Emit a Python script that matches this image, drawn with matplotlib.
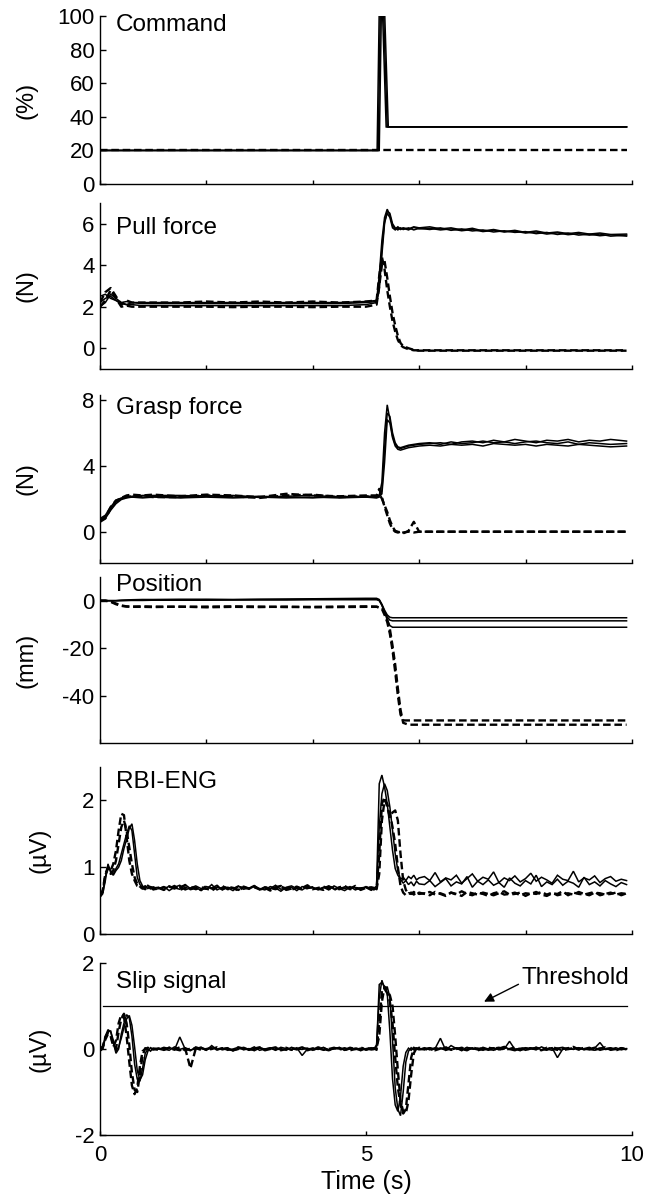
import matplotlib
matplotlib.use("Agg")
import matplotlib.pyplot as plt

plt.rcParams['font.family'] = ['Liberation Sans', 'DejaVu Sans']
plt.rcParams['axes.unicode_minus'] = False

# ---- Command (%) : breakpoints per trace
cmd_t_solid = [[0, 5.21, 5.25, 5.31, 5.38, 9.9],
               [0, 5.23, 5.27, 5.33, 5.40, 9.9],
               [0, 5.25, 5.29, 5.35, 5.42, 9.9]]
cmd_v_solid = [[20, 20, 104, 104, 34, 34],
               [20, 20, 104, 104, 34, 34],
               [20, 20, 104, 104, 34, 34]]
cmd_t_dash = [[0, 9.9]]
cmd_v_dash = [[20, 20]]

# ---- common time base for force / position traces (s)
t_mid = [0.0, 0.1, 0.2, 0.3, 0.4, 0.5, 0.6, 0.8, 1.0, 1.5, 2.0, 2.5, 3.0, 3.5, 4.0, 4.5, 5.0,
         5.2, 5.25, 5.3, 5.35, 5.4, 5.45, 5.5, 5.55, 5.6, 5.65, 5.7, 5.8, 5.9, 6.0,
         6.2, 6.4, 6.6, 6.8, 7.0, 7.2, 7.4, 7.6, 7.8, 8.0, 8.2, 8.4, 8.6, 8.8, 9.0, 9.2, 9.4, 9.6, 9.9]

# ---- Pull force (N)
pull_solid = [
    [2.5, 2.6, 2.4, 2.3, 2.2, 2.25, 2.2, 2.2, 2.2,
     2.2, 2.2, 2.2, 2.2, 2.2, 2.2, 2.2, 2.25,
     2.3, 3.5, 5.2, 6.3, 6.7, 6.4, 5.9, 5.75, 5.85, 5.75, 5.8,
     5.75, 5.85, 5.8,
     5.85, 5.75, 5.8, 5.7, 5.78, 5.65, 5.72, 5.62, 5.68, 5.58, 5.65, 5.55, 5.6, 5.52, 5.58, 5.5, 5.55, 5.48, 5.5],
    [2.2, 2.4, 2.5, 2.3, 2.15, 2.1, 2.1, 2.05, 2.05,
     2.05, 2.05, 2.05, 2.05, 2.05, 2.05, 2.05, 2.1,
     2.2, 2.8, 4.5, 6.0, 6.6, 6.5, 6.0, 5.8, 5.7, 5.8, 5.72,
     5.8, 5.7, 5.78,
     5.72, 5.8, 5.68, 5.75, 5.65, 5.7, 5.6, 5.66, 5.58, 5.62, 5.52, 5.58, 5.48, 5.55, 5.45, 5.5, 5.42, 5.47, 5.4],
    [2.0, 2.2, 2.6, 2.4, 2.2, 2.1, 2.2, 2.15, 2.15,
     2.15, 2.15, 2.15, 2.15, 2.15, 2.15, 2.15, 2.2,
     2.25, 3.0, 4.8, 6.1, 6.5, 6.3, 5.8, 5.7, 5.8, 5.72, 5.78,
     5.7, 5.82, 5.75,
     5.78, 5.7, 5.75, 5.66, 5.72, 5.62, 5.68, 5.6, 5.64, 5.55, 5.6, 5.5, 5.56, 5.47, 5.52, 5.45, 5.5, 5.4, 5.45],
]
pull_dash = [
    [2.2, 2.7, 2.9, 2.5, 2.1, 2.3, 2.2, 2.2, 2.2,
     2.2, 2.25, 2.2, 2.25, 2.2, 2.25, 2.2, 2.25,
     2.3, 3.5, 4.4, 3.8, 2.8, 2.0, 1.3, 0.8, 0.4, 0.15, 0.05,
     -0.05, -0.1, -0.1,
     -0.1, -0.1, -0.1, -0.1, -0.1, -0.1, -0.1, -0.1, -0.1, -0.1, -0.1, -0.1, -0.1, -0.1, -0.1, -0.1, -0.1, -0.1, -0.1],
    [2.0, 2.3, 2.8, 2.4, 2.0, 2.05, 2.0, 2.0, 2.0,
     2.0, 2.0, 1.98, 2.0, 2.0, 1.98, 2.0, 2.0,
     2.1, 3.0, 4.0, 4.2, 3.4, 2.5, 1.7, 1.1, 0.6, 0.25, 0.1,
     0.0, -0.08, -0.12,
     -0.12, -0.12, -0.12, -0.12, -0.12, -0.12, -0.12, -0.12, -0.12, -0.12, -0.12, -0.12, -0.12, -0.12, -0.12, -0.12, -0.12, -0.12, -0.12],
]

# ---- Grasp force (N)
grasp_solid = [
    [0.6, 0.9, 1.4, 1.8, 2.0, 2.1, 2.15, 2.2, 2.2,
     2.2, 2.15, 2.2, 2.1, 2.15, 2.2, 2.1, 2.15,
     2.15, 2.2, 3.0, 6.0, 7.7, 6.8, 5.8, 5.3, 5.1, 5.05, 5.1,
     5.2, 5.25, 5.3,
     5.35, 5.4, 5.3, 5.45, 5.5, 5.4, 5.55, 5.45, 5.6, 5.5, 5.4, 5.55, 5.5, 5.6, 5.45, 5.55, 5.5, 5.6, 5.5],
    [0.8, 1.0, 1.5, 1.9, 2.05, 2.1, 2.1, 2.1, 2.15,
     2.1, 2.2, 2.1, 2.15, 2.1, 2.05, 2.15, 2.1,
     2.1, 2.15, 2.5, 5.0, 7.2, 7.0, 6.0, 5.4, 5.15, 5.1, 5.15,
     5.25, 5.3, 5.35,
     5.4, 5.3, 5.45, 5.35, 5.4, 5.5, 5.4, 5.45, 5.35, 5.45, 5.5, 5.4, 5.35, 5.45, 5.3, 5.4, 5.35, 5.3, 5.35],
    [0.7, 0.8, 1.3, 1.7, 1.95, 2.05, 2.1, 2.05, 2.1,
     2.05, 2.1, 2.05, 2.1, 2.05, 2.1, 2.05, 2.1,
     2.05, 2.1, 2.3, 4.2, 6.8, 6.6, 5.7, 5.2, 5.0, 4.95, 5.0,
     5.1, 5.15, 5.2,
     5.25, 5.2, 5.3, 5.25, 5.3, 5.2, 5.35, 5.3, 5.25, 5.3, 5.2, 5.3, 5.25, 5.2, 5.3, 5.25, 5.2, 5.15, 5.2],
]
grasp_dash = [
    [0.6, 0.8, 1.4, 1.85, 2.05, 2.2, 2.25, 2.2, 2.25,
     2.15, 2.25, 2.2, 2.1, 2.3, 2.2, 2.15, 2.2,
     2.2, 2.6, 2.1, 1.5, 1.0, 0.5, 0.15, 0.0, -0.05, 0.0, -0.1,
     0.05, 0.6, 0.0,
     0.0, 0.0, 0.0, 0.0, 0.0, 0.0, 0.0, 0.0, 0.0, 0.0, 0.0, 0.0, 0.0, 0.0, 0.0, 0.0, 0.0, 0.0, 0.0],
    [0.7, 0.9, 1.5, 1.9, 2.0, 2.1, 2.15, 2.15, 2.1,
     2.1, 2.2, 2.15, 2.05, 2.2, 2.25, 2.1, 2.15,
     2.1, 2.3, 2.0, 1.6, 1.2, 0.7, 0.3, 0.05, 0.0, -0.1, -0.05,
     0.0, -0.05, 0.0,
     0.0, 0.0, 0.0, 0.0, 0.0, 0.0, 0.0, 0.0, 0.0, 0.0, 0.0, 0.0, 0.0, 0.0, 0.0, 0.0, 0.0, 0.0, 0.0],
]

# ---- Position (mm)
pos_solid = [
    [0.0, 0.0, 0.0, 0.0, 0.2, 0.3, 0.4, 0.5, 0.5, 0.6, 0.6, 0.5, 0.6, 0.7, 0.8, 0.9, 1.0,
     1.0, 0.5, -1.5, -4.0, -6.0, -7.0, -7.2, -7.2, -7.2, -7.2, -7.2,
     -7.2, -7.2, -7.2,
     -7.2, -7.2, -7.2, -7.2, -7.2, -7.2, -7.2, -7.2, -7.2, -7.2, -7.2, -7.2, -7.2, -7.2, -7.2, -7.2, -7.2, -7.2, -7.2],
    [0.0, 0.0, 0.0, 0.0, 0.1, 0.1, 0.2, 0.2, 0.3, 0.3, 0.4, 0.4, 0.5, 0.5, 0.6, 0.6, 0.7,
     0.7, 0.3, -1.8, -4.5, -6.8, -8.2, -8.5, -8.5, -8.5, -8.5, -8.5,
     -8.5, -8.5, -8.5,
     -8.5, -8.5, -8.5, -8.5, -8.5, -8.5, -8.5, -8.5, -8.5, -8.5, -8.5, -8.5, -8.5, -8.5, -8.5, -8.5, -8.5, -8.5, -8.5],
    [0.0, 0.0, 0.0, 0.0, 0.0, 0.1, 0.1, 0.1, 0.2, 0.2, 0.2, 0.3, 0.3, 0.3, 0.4, 0.4, 0.4,
     0.4, 0.0, -2.0, -5.0, -8.0, -10.5, -11.2, -11.2, -11.2, -11.2, -11.2,
     -11.2, -11.2, -11.2,
     -11.2, -11.2, -11.2, -11.2, -11.2, -11.2, -11.2, -11.2, -11.2, -11.2, -11.2, -11.2, -11.2, -11.2, -11.2, -11.2, -11.2, -11.2, -11.2],
]
pos_dash = [
    [0.0, 0.0, -0.5, -1.5, -2.2, -2.5, -2.5, -2.4, -2.5, -2.6, -2.5, -2.4, -2.5, -2.7, -2.6, -2.5, -2.4,
     -2.5, -3.0, -3.5, -6.0, -9.0, -14.0, -21.0, -30.0, -40.0, -48.0, -50.5,
     -50.5, -50.5, -50.5,
     -50.5, -50.5, -50.5, -50.5, -50.5, -50.5, -50.5, -50.5, -50.5, -50.5, -50.5, -50.5, -50.5, -50.5, -50.5, -50.5, -50.5, -50.5, -50.5],
    [0.0, 0.0, -0.3, -1.2, -2.0, -2.4, -2.6, -2.6, -2.7, -2.5, -2.8, -2.6, -2.7, -2.5, -2.8, -2.7, -2.6,
     -2.6, -2.8, -3.0, -5.0, -8.0, -12.0, -19.0, -27.0, -37.0, -46.0, -51.5,
     -52.3, -52.3, -52.3,
     -52.3, -52.3, -52.3, -52.3, -52.3, -52.3, -52.3, -52.3, -52.3, -52.3, -52.3, -52.3, -52.3, -52.3, -52.3, -52.3, -52.3, -52.3, -52.3],
]

# ---- time base for the nerve signals (s)
t_eng = [0.00, 0.05, 0.10, 0.15, 0.20, 0.25, 0.30, 0.35, 0.40, 0.45, 0.50, 0.55, 0.60, 0.65, 0.70,
         0.75, 0.80, 0.85, 0.90, 0.95, 1.00,
         1.1, 1.2, 1.3, 1.4, 1.5, 1.6, 1.7, 1.8, 1.9, 2.0, 2.1, 2.2, 2.3, 2.4, 2.5, 2.6, 2.7, 2.8,
         2.9, 3.0, 3.1, 3.2, 3.3, 3.4, 3.5, 3.6, 3.7, 3.8, 3.9, 4.0, 4.1, 4.2, 4.3, 4.4, 4.5, 4.6,
         4.7, 4.8, 4.9, 5.0, 5.1,
         5.15, 5.20, 5.25, 5.30, 5.35, 5.40, 5.45, 5.50, 5.55, 5.60, 5.65, 5.70, 5.75, 5.80, 5.85,
         5.90, 5.95, 6.00,
         6.1, 6.2, 6.3, 6.4, 6.5, 6.6, 6.7, 6.8, 6.9, 7.0, 7.1, 7.2, 7.3, 7.4, 7.5, 7.6, 7.7, 7.8,
         7.9, 8.0, 8.1, 8.2, 8.3, 8.4, 8.5, 8.6, 8.7, 8.8, 8.9, 9.0, 9.1, 9.2, 9.3, 9.4, 9.5, 9.6,
         9.7, 9.8, 9.9]

# ---- RBI-ENG (uV)
eng_solid = [
    [0.58, 0.62, 0.85, 1.02, 0.95, 0.90, 0.98, 1.05, 1.20, 1.35, 1.50, 1.62, 1.55, 1.20, 0.85, 0.74, 0.70, 0.72, 0.68, 0.71, 0.69,
     0.70, 0.66, 0.72, 0.69, 0.67, 0.74, 0.68, 0.70, 0.65, 0.71,
     0.69, 0.73, 0.66, 0.70, 0.68, 0.72, 0.67, 0.69, 0.71, 0.66,
     0.70, 0.68, 0.73, 0.67, 0.69, 0.70, 0.65, 0.71, 0.68, 0.70,
     0.66, 0.69, 0.72, 0.67, 0.70, 0.68, 0.71, 0.66, 0.69, 0.70, 0.67,
     0.68, 0.72, 2.25, 2.38, 2.20, 1.95, 1.60, 1.25, 0.98, 0.88, 0.82, 0.85, 0.80, 0.86, 0.83, 0.88, 0.81, 0.84,
     0.86, 0.80, 0.92, 0.78, 0.84, 0.81, 0.88, 0.76, 0.83, 0.90,
     0.79, 0.85, 0.82, 0.93, 0.77, 0.84, 0.80, 0.87, 0.78, 0.83,
     0.91, 0.79, 0.85, 0.81, 0.76, 0.88, 0.82, 0.80, 0.94, 0.78,
     0.84, 0.81, 0.87, 0.77, 0.83, 0.86, 0.79, 0.82, 0.80],
    [0.55, 0.60, 0.80, 1.05, 0.92, 0.88, 0.95, 1.00, 1.10, 1.28, 1.42, 1.58, 1.65, 1.40, 1.05, 0.80, 0.72, 0.68, 0.73, 0.70, 0.66,
     0.68, 0.71, 0.65, 0.70, 0.73, 0.66, 0.69, 0.72, 0.68, 0.67,
     0.74, 0.66, 0.70, 0.69, 0.65, 0.71, 0.70, 0.67, 0.72, 0.68,
     0.66, 0.71, 0.69, 0.64, 0.70, 0.72, 0.68, 0.66, 0.71, 0.69,
     0.67, 0.70, 0.66, 0.72, 0.68, 0.65, 0.70, 0.69, 0.67, 0.71, 0.68,
     0.66, 0.70, 1.60, 2.10, 2.25, 2.15, 1.90, 1.55, 1.20, 0.95, 0.82, 0.76, 0.80, 0.74, 0.78, 0.72, 0.79, 0.75,
     0.74, 0.80, 0.71, 0.77, 0.83, 0.72, 0.78, 0.75, 0.86, 0.70,
     0.79, 0.74, 0.81, 0.73, 0.77, 0.70, 0.84, 0.76, 0.72, 0.80,
     0.75, 0.88, 0.71, 0.78, 0.74, 0.82, 0.73, 0.79, 0.76, 0.70,
     0.85, 0.74, 0.78, 0.72, 0.80, 0.75, 0.71, 0.77, 0.74],
]
eng_dash = [
    [0.60, 0.65, 0.90, 1.00, 0.95, 1.05, 1.25, 1.55, 1.80, 1.78, 1.45, 1.10, 0.90, 0.80, 0.72, 0.70, 0.68, 0.71, 0.67, 0.70, 0.68,
     0.67, 0.70, 0.68, 0.72, 0.66, 0.69, 0.71, 0.67, 0.70, 0.68,
     0.65, 0.70, 0.72, 0.67, 0.69, 0.66, 0.71, 0.68, 0.70, 0.67,
     0.69, 0.65, 0.70, 0.72, 0.66, 0.68, 0.71, 0.67, 0.69, 0.70,
     0.68, 0.66, 0.71, 0.69, 0.67, 0.70, 0.68, 0.72, 0.66, 0.69, 0.70,
     0.69, 0.68, 1.20, 1.95, 2.05, 1.90, 1.75, 1.82, 1.85, 1.70, 1.20, 0.80, 0.66, 0.60, 0.62, 0.59, 0.63, 0.60,
     0.61, 0.58, 0.63, 0.60, 0.57, 0.62, 0.59, 0.64, 0.60, 0.58,
     0.62, 0.60, 0.57, 0.61, 0.63, 0.59, 0.60, 0.62, 0.58, 0.61,
     0.60, 0.63, 0.59, 0.57, 0.61, 0.60, 0.64, 0.58, 0.62, 0.60,
     0.59, 0.61, 0.63, 0.58, 0.60, 0.62, 0.59, 0.61, 0.60],
    [0.57, 0.63, 0.88, 0.98, 0.90, 0.95, 1.10, 1.35, 1.60, 1.70, 1.55, 1.30, 1.05, 0.85, 0.75, 0.71, 0.69, 0.67, 0.72, 0.68, 0.70,
     0.69, 0.66, 0.71, 0.68, 0.70, 0.73, 0.67, 0.69, 0.66, 0.72,
     0.68, 0.70, 0.67, 0.71, 0.69, 0.65, 0.70, 0.68, 0.72, 0.66,
     0.70, 0.69, 0.67, 0.71, 0.68, 0.66, 0.70, 0.69, 0.73, 0.67,
     0.69, 0.71, 0.68, 0.66, 0.70, 0.72, 0.67, 0.69, 0.68, 0.70, 0.66,
     0.70, 0.67, 0.90, 1.70, 2.00, 1.95, 1.80, 1.60, 1.35, 1.00, 0.72, 0.62, 0.58, 0.61, 0.60, 0.63, 0.59, 0.62,
     0.60, 0.63, 0.59, 0.61, 0.58, 0.62, 0.60, 0.57, 0.63, 0.61,
     0.59, 0.62, 0.60, 0.58, 0.61, 0.64, 0.59, 0.60, 0.62, 0.57,
     0.61, 0.60, 0.63, 0.59, 0.62, 0.58, 0.60, 0.61, 0.59, 0.63,
     0.60, 0.58, 0.62, 0.61, 0.59, 0.60, 0.62, 0.58, 0.61],
]

# ---- Slip signal (uV)
slip_solid = [
    [0.00, 0.05, 0.30, 0.45, 0.40, 0.15, -0.10, 0.00, 0.35, 0.60, 0.80, 0.72, 0.30, -0.35, -0.70, -0.75, -0.45, -0.10, 0.00, -0.05, 0.02,
     0.00, -0.03, 0.04, -0.02, 0.28, 0.00, -0.04, 0.05, 0.01, -0.02,
     0.03, -0.01, 0.02, -0.03, 0.00, 0.04, -0.02, 0.01, -0.04, 0.02,
     0.00, 0.03, -0.02, 0.01, -0.03, 0.04, 0.00, -0.01, 0.02, -0.03,
     0.01, 0.03, -0.02, 0.00, 0.04, -0.03, 0.01, -0.01, 0.02, 0.00, -0.02,
     -0.01, 0.05, 1.50, 1.55, 1.45, 1.30, 0.40, -0.70, -1.30, -1.45, -1.10, -0.40, -0.08, 0.02, -0.03, 0.04, 0.00, -0.02,
     0.03, -0.02, 0.01, 0.25, -0.03, 0.00, 0.02, -0.04, 0.03, 0.01,
     -0.02, 0.04, 0.00, -0.03, 0.02, 0.06, -0.01, 0.00, -0.04, 0.03,
     0.01, -0.02, 0.05, 0.00, -0.03, 0.02, 0.04, -0.01, 0.00, 0.03,
     -0.02, 0.01, 0.04, -0.03, 0.00, 0.02, -0.01, 0.03, 0.00],
    [-0.05, 0.00, 0.25, 0.40, 0.42, 0.20, -0.05, 0.05, 0.25, 0.50, 0.70, 0.78, 0.55, 0.05, -0.50, -0.72, -0.60, -0.25, -0.05, 0.03, -0.02,
     0.02, 0.00, -0.03, 0.05, -0.01, 0.03, -0.02, 0.00, 0.04, -0.03,
     0.08, -0.02, 0.01, 0.03, -0.04, 0.00, 0.02, -0.01, 0.05, -0.03,
     0.00, 0.02, -0.03, 0.04, 0.01, -0.02, 0.03, -0.15, 0.00, 0.02,
     -0.01, 0.04, -0.02, 0.01, 0.03, -0.03, 0.00, 0.02, -0.04, 0.01, 0.03,
     0.00, 0.10, 1.20, 1.60, 1.40, 1.45, 1.20, 0.20, -0.90, -1.40, -1.55, -1.00, -0.30, -0.05, 0.03, -0.02, 0.02, 0.00,
     -0.02, 0.03, 0.00, 0.02, -0.03, 0.08, 0.01, -0.02, 0.04, 0.00,
     0.02, -0.03, 0.01, 0.03, -0.02, 0.00, 0.18, -0.01, 0.02, -0.03,
     0.00, 0.04, -0.02, 0.01, 0.03, -0.20, 0.00, 0.02, -0.01, 0.03,
     0.00, -0.02, 0.02, 0.15, -0.01, 0.00, 0.03, -0.02, 0.01],
]
slip_dash = [
    [0.02, 0.05, 0.28, 0.38, 0.30, 0.05, 0.20, 0.60, 0.80, 0.75, 0.30, -0.30, -0.85, -1.05, -0.90, -0.40, -0.05, 0.00, 0.03, -0.02, 0.00,
     0.01, -0.02, 0.03, 0.00, -0.03, 0.02, -0.45, 0.01, 0.03, -0.02,
     0.00, 0.04, -0.01, 0.02, -0.03, 0.00, 0.03, -0.02, 0.01, 0.04,
     -0.03, 0.00, 0.02, -0.01, 0.03, -0.02, 0.00, 0.04, -0.03, 0.01,
     0.02, -0.02, 0.00, 0.03, -0.01, 0.02, -0.03, 0.00, 0.04, -0.02, 0.01,
     0.02, -0.02, 0.60, 1.35, 1.40, 1.30, 1.10, 0.60, -0.20, -0.90, -1.30, -1.50, -1.40, -0.80, -0.20, 0.02, 0.00, 0.03,
     0.00, 0.02, -0.03, 0.01, 0.04, -0.02, 0.00, 0.03, -0.01, 0.02,
     -0.03, 0.00, 0.03, 0.01, -0.02, 0.04, 0.00, -0.03, 0.02, 0.01,
     -0.01, 0.03, 0.00, -0.02, 0.04, 0.01, -0.03, 0.00, 0.02, -0.01,
     0.03, 0.00, -0.02, 0.01, 0.04, -0.02, 0.00, 0.02, -0.01],
    [-0.03, 0.02, 0.22, 0.35, 0.32, 0.10, 0.00, 0.40, 0.70, 0.82, 0.60, 0.10, -0.55, -0.95, -1.00, -0.60, -0.15, 0.02, -0.02, 0.01, 0.00,
     -0.02, 0.03, 0.00, -0.01, 0.04, -0.03, 0.01, 0.02, -0.02, 0.00,
     0.03, -0.01, 0.02, 0.00, -0.03, 0.04, 0.01, -0.02, 0.00, 0.03,
     -0.02, 0.01, 0.04, -0.03, 0.00, 0.02, -0.01, 0.03, 0.00, -0.02,
     0.04, 0.00, -0.03, 0.02, 0.01, -0.02, 0.03, 0.00, -0.01, 0.02, 0.00,
     0.00, 0.03, 0.30, 1.10, 1.45, 1.35, 1.25, 1.00, 0.30, -0.50, -1.20, -1.45, -1.50, -1.20, -0.60, -0.10, 0.02, -0.01,
     0.01, -0.03, 0.02, 0.00, 0.03, -0.01, 0.02, 0.00, -0.03, 0.04,
     0.00, 0.02, -0.02, 0.01, 0.03, -0.01, 0.00, 0.04, -0.02, 0.01,
     0.02, 0.00, -0.03, 0.03, 0.01, -0.02, 0.00, 0.02, 0.05, -0.01,
     0.00, 0.03, -0.02, 0.01, 0.00, 0.02, -0.03, 0.01, 0.00],
]
threshold = 1.0

titles = ['Command', 'Pull force', 'Grasp force', 'Position', 'RBI-ENG', 'Slip signal']
units = ['(%)', '(N)', '(N)', '(mm)', '(\u00b5V)', '(\u00b5V)']
yticks = [[0, 20, 40, 60, 80, 100], [0, 2, 4, 6], [0, 4, 8], [-40, -20, 0], [0, 1, 2], [-2, 0, 2]]
ylims = [(0, 100), (-1, 7), (-1.9, 8.3), (-60, 10), (0, 2.5), (-2, 2)]

# axes rectangles in figure fraction (left, bottom, width, height)
rects = [(0.1527, 0.8470, 0.812, 0.1397),
         (0.1527, 0.6933, 0.812, 0.1380),
         (0.1527, 0.5320, 0.812, 0.1397),
         (0.1527, 0.3824, 0.812, 0.1380),
         (0.1527, 0.2236, 0.812, 0.1388),
         (0.1527, 0.0565, 0.812, 0.1430)]
title_y = [0.945, 0.85, 0.92, 0.95, 0.91, 0.89]
label_x = [-0.117, -0.117, -0.117, -0.117, -0.094, -0.094]

fig = plt.figure(figsize=(6.55, 12.03), dpi=100)

solid_kw = dict(color='black', lw=1.1, solid_joinstyle='miter')
dash_kw = dict(color='black', lw=1.7, linestyle=(0, (3.2, 1.6)))

panels = [
    (cmd_t_solid, cmd_v_solid, cmd_t_dash, cmd_v_dash),
    ([t_mid] * 3, pull_solid, [t_mid] * 2, pull_dash),
    ([t_mid] * 3, grasp_solid, [t_mid] * 2, grasp_dash),
    ([t_mid] * 3, pos_solid, [t_mid] * 2, pos_dash),
    ([t_eng] * 2, eng_solid, [t_eng] * 2, eng_dash),
    ([t_eng] * 2, slip_solid, [t_eng] * 2, slip_dash),
]

axes = []
for i, (ts, vs, td, vd) in enumerate(panels):
    ax = fig.add_axes(rects[i])
    axes.append(ax)
    for t, v in zip(td, vd):
        ax.plot(t, v, **dash_kw)
    for t, v in zip(ts, vs):
        ax.plot(t, v, **solid_kw)
    ax.set_xlim(0, 10)
    ax.set_ylim(*ylims[i])
    ax.set_yticks(yticks[i])
    ax.spines['top'].set_visible(False)
    ax.spines['right'].set_visible(False)
    for s in ('left', 'bottom'):
        ax.spines[s].set_linewidth(1.0)
    ax.tick_params(direction='in', length=4, width=1.0, labelsize=16, pad=4)
    if i < 5:
        ax.set_xticks([0, 2, 4, 6, 8, 10])
        ax.tick_params(axis='x', labelbottom=False, length=3)
    else:
        ax.set_xticks([0, 5, 10])
        ax.tick_params(axis='x', length=3, pad=7)
        ax.set_xlabel('Time (s)', fontsize=18, labelpad=3)
    ax.text(0.03, title_y[i], titles[i], transform=ax.transAxes, fontsize=17.5,
            ha='left', va='center')
    ax.set_ylabel(units[i], fontsize=17)
    ax.yaxis.set_label_coords(label_x[i], 0.5)

# threshold line and annotation in the slip panel
ax = axes[5]
ax.plot([0.05, 9.9], [threshold, threshold], color='black', lw=0.9)
ax.annotate('Threshold', xy=(7.22, 1.1), xytext=(7.92, 1.64), fontsize=17.5,
            ha='left', va='center',
            arrowprops=dict(arrowstyle='-|>', color='black', lw=1.0,
                            mutation_scale=14, shrinkA=0, shrinkB=0,
                            relpos=(0.0, 0.3)))

fig.savefig('out.png', dpi=100)
